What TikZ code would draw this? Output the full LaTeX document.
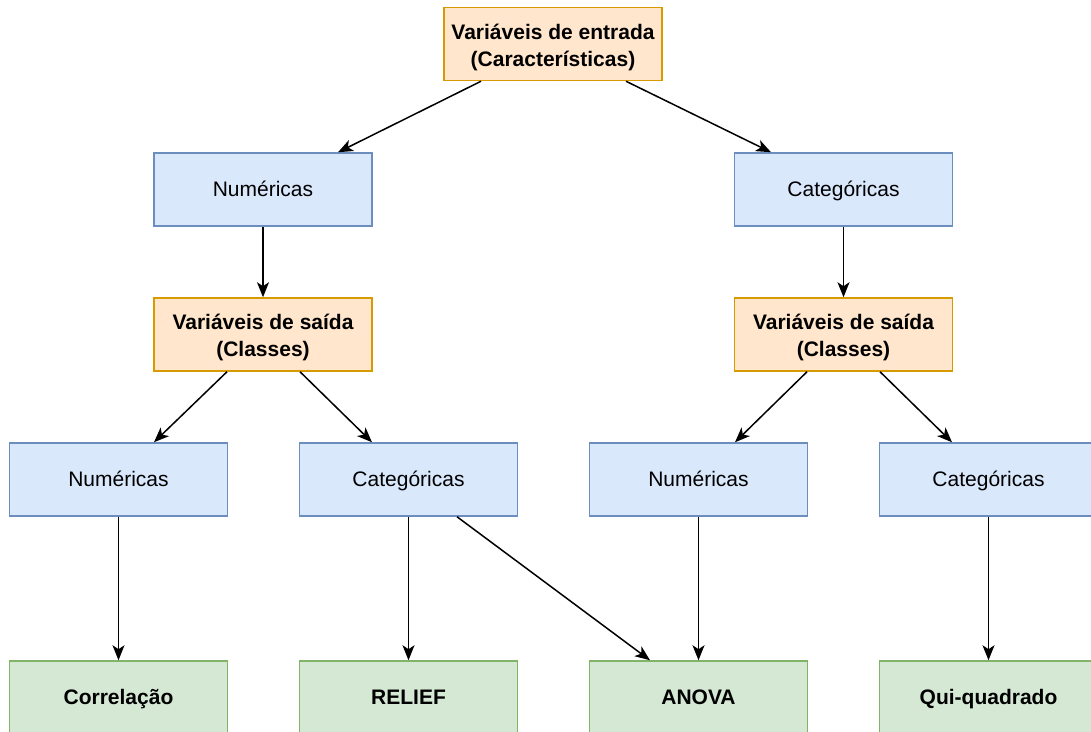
\documentclass[tikz,border=0pt]{standalone}
\usepackage{fontspec}
\setmainfont{Liberation Sans}
\usetikzlibrary{arrows.meta,calc}
\definecolor{bluefill}{HTML}{DAE8FC}
\definecolor{blueline}{HTML}{6C8EBF}
\definecolor{orangefill}{HTML}{FFE6CC}
\definecolor{orangeline}{HTML}{D79B00}
\definecolor{greenfill}{HTML}{D5E8D4}
\definecolor{greenline}{HTML}{82B366}
\tikzset{
  box/.style={rectangle, minimum width=218pt, minimum height=73pt, inner sep=0pt,
    line width=1.5pt, align=center, font=\fontsize{21}{27}\selectfont},
  typebox/.style={box, fill=bluefill, draw=blueline, text height=16pt, text depth=2pt},
  classbox/.style={box, fill=orangefill, draw=orangeline, text height=46pt, text depth=2pt,
    font=\fontsize{21}{27}\selectfont\bfseries},
  methodbox/.style={box, fill=greenfill, draw=greenline, minimum height=72pt,
    text height=16pt, text depth=2pt, font=\fontsize{21}{27}\selectfont\bfseries},
  link/.style={line width=1.5pt, -{Stealth[length=15pt,width=12pt,inset=4pt]}}
}
\begin{document}
\begin{tikzpicture}[x=1pt,y=-1pt]
  \useasboundingbox (0,0) rectangle (1091,731);
  \clip (0,0) rectangle (1091,731);
  \fill[white] (0,0) rectangle (1091,731);

  % input variables
  \node[classbox] (top) at (553,44) {Variáveis de entrada\\(Características)};

  % input types
  \node[typebox] (num1) at (263,189.5) {Numéricas};
  \node[typebox] (cat1) at (843.5,189.5) {Categóricas};

  % output variables
  \node[classbox] (outL) at (263,334.5) {Variáveis de saída\\(Classes)};
  \node[classbox] (outR) at (843.5,334.5) {Variáveis de saída\\(Classes)};

  % output types
  \node[typebox] (numL) at (118.5,479.5) {Numéricas};
  \node[typebox] (catL) at (408.5,479.5) {Categóricas};
  \node[typebox] (numR) at (698.5,479.5) {Numéricas};
  \node[typebox] (catR) at (988.5,479.5) {Categóricas};

  % selection methods
  \node[methodbox] (corr) at (118.5,697) {Correlação};
  \node[methodbox] (relief) at (408.5,697) {RELIEF};
  \node[methodbox] (anova) at (698.5,697) {ANOVA};
  \node[methodbox] (chi) at (988.5,697) {Qui-quadrado};

  % connectors
  \draw[link] ($(top.south)+(-72,0)$) -- ($(num1.north)+(75,0)$);
  \draw[link] ($(top.south)+(73,0)$) -- ($(cat1.north)+(-72.5,0)$);
  \draw[link] (num1) -- (outL);
  \draw[link] (cat1) -- (outR);
  \draw[link] ($(outL.south)+(-36,0)$) -- ($(numL.north)+(35.5,0)$);
  \draw[link] ($(outL.south)+(37,0)$) -- ($(catL.north)+(-36.5,0)$);
  \draw[link] ($(outR.south)+(-36.5,0)$) -- ($(numR.north)+(36.5,0)$);
  \draw[link] ($(outR.south)+(36.5,0)$) -- ($(catR.north)+(-36.5,0)$);
  \draw[link] (numL) -- (corr);
  \draw[link] (catL) -- (relief);
  \draw[link] ($(catL.south)+(48.5,0)$) -- ($(anova.north)+(-48.5,0)$);
  \draw[link] (numR) -- (anova);
  \draw[link] (catR) -- (chi);
\end{tikzpicture}
\end{document}
